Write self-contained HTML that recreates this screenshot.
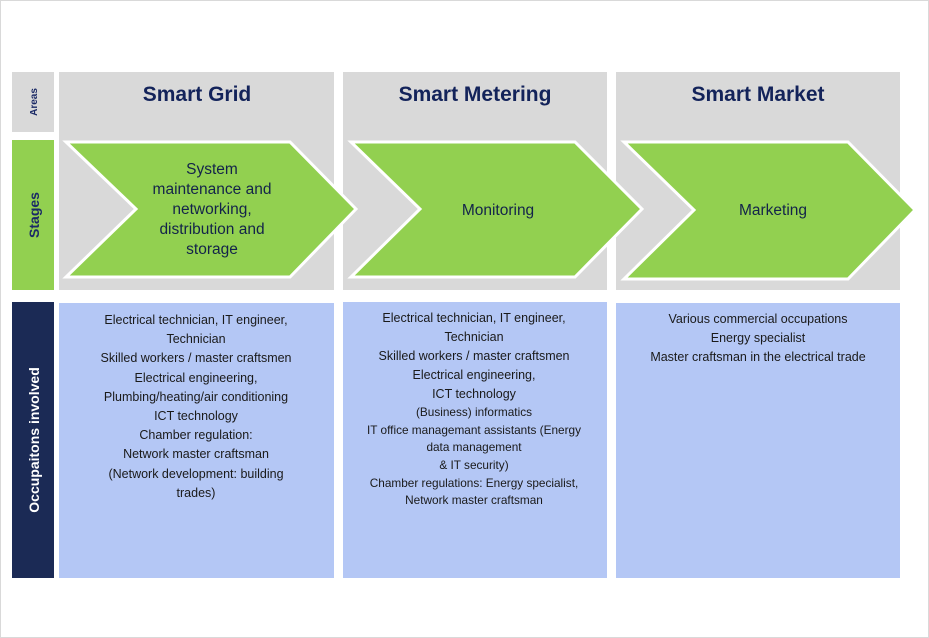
<!DOCTYPE html>
<html><head><meta charset="utf-8"><style>
html,body{margin:0;padding:0;background:#fff;}
svg{display:block;}
text{font-family:"Liberation Sans",sans-serif;}
</style></head><body>
<svg width="929" height="638" viewBox="0 0 929 638" xmlns="http://www.w3.org/2000/svg">
<rect x="0.5" y="0.5" width="928" height="637" fill="#fff" stroke="#d9d9d9"/>
<rect x="12" y="72" width="42" height="60" fill="#d9d9d9"/>
<rect x="12" y="140" width="42" height="150" fill="#92d050"/>
<rect x="12" y="302" width="42" height="276" fill="#1b2a55"/>
<text transform="translate(37,102) rotate(-90)" text-anchor="middle" font-size="10" font-weight="bold" fill="#1b2a66">Areas</text>
<text transform="translate(39,215) rotate(-90)" text-anchor="middle" font-size="14" font-weight="bold" fill="#1b2a66">Stages</text>
<text transform="translate(39,440) rotate(-90)" text-anchor="middle" font-size="14" font-weight="bold" fill="#fff">Occupaitons involved</text>
<rect x="59" y="72" width="275" height="218" fill="#d9d9d9"/>
<rect x="343" y="72" width="264" height="218" fill="#d9d9d9"/>
<rect x="616" y="72" width="284" height="218" fill="#d9d9d9"/>
<g font-size="21" font-weight="bold" fill="#13235a" text-anchor="middle">
<text x="197" y="101">Smart Grid</text>
<text x="475" y="101">Smart Metering</text>
<text x="758" y="101">Smart Market</text>
</g>
<g fill="#92d050" stroke="#fff" stroke-width="3" stroke-linejoin="miter">
<polygon points="66,142 290,142 356,209 290,277 66,277 136,209"/>
<polygon points="351,142 575,142 642,209 575,277 351,277 420,209"/>
<polygon points="624,142 848,142 915,210 848,279 624,279 694,210"/>
</g>
<g font-size="15.5" fill="#13234a" text-anchor="middle">
<text x="212" y="174">System</text>
<text x="212" y="194">maintenance and</text>
<text x="212" y="214">networking,</text>
<text x="212" y="234">distribution and</text>
<text x="212" y="254">storage</text>
<text x="498" y="215">Monitoring</text>
<text x="773" y="215">Marketing</text>
</g>
<rect x="59" y="303" width="275" height="275" fill="#b4c7f5"/>
<rect x="343" y="302" width="264" height="276" fill="#b4c7f5"/>
<rect x="616" y="303" width="284" height="275" fill="#b4c7f5"/>
<g font-size="12.5" fill="#1a1a1a" text-anchor="middle">
<text x="196" y="324">Electrical technician, IT engineer,</text>
<text x="196" y="343">Technician</text>
<text x="196" y="362">Skilled workers / master craftsmen</text>
<text x="196" y="382">Electrical engineering,</text>
<text x="196" y="401">Plumbing/heating/air conditioning</text>
<text x="196" y="420">ICT technology</text>
<text x="196" y="439">Chamber regulation:</text>
<text x="196" y="458">Network master craftsman</text>
<text x="196" y="478">(Network development: building</text>
<text x="196" y="497">trades)</text>
<text x="474" y="322">Electrical technician, IT engineer,</text>
<text x="474" y="341">Technician</text>
<text x="474" y="360">Skilled workers / master craftsmen</text>
<text x="474" y="379">Electrical engineering,</text>
<text x="474" y="398">ICT technology</text>
</g>
<g font-size="11.8" fill="#1a1a1a" text-anchor="middle">
<text x="474" y="416">(Business) informatics</text>
<text x="474" y="434">IT office managemant assistants (Energy</text>
<text x="474" y="451">data management</text>
<text x="474" y="469">&amp; IT security)</text>
<text x="474" y="487">Chamber regulations: Energy specialist,</text>
<text x="474" y="504">Network master craftsman</text>
</g>
<g font-size="12.5" fill="#1a1a1a" text-anchor="middle">
<text x="758" y="323">Various commercial occupations</text>
<text x="758" y="342">Energy specialist</text>
<text x="758" y="361">Master craftsman in the electrical trade</text>
</g>
</svg>
</body></html>
